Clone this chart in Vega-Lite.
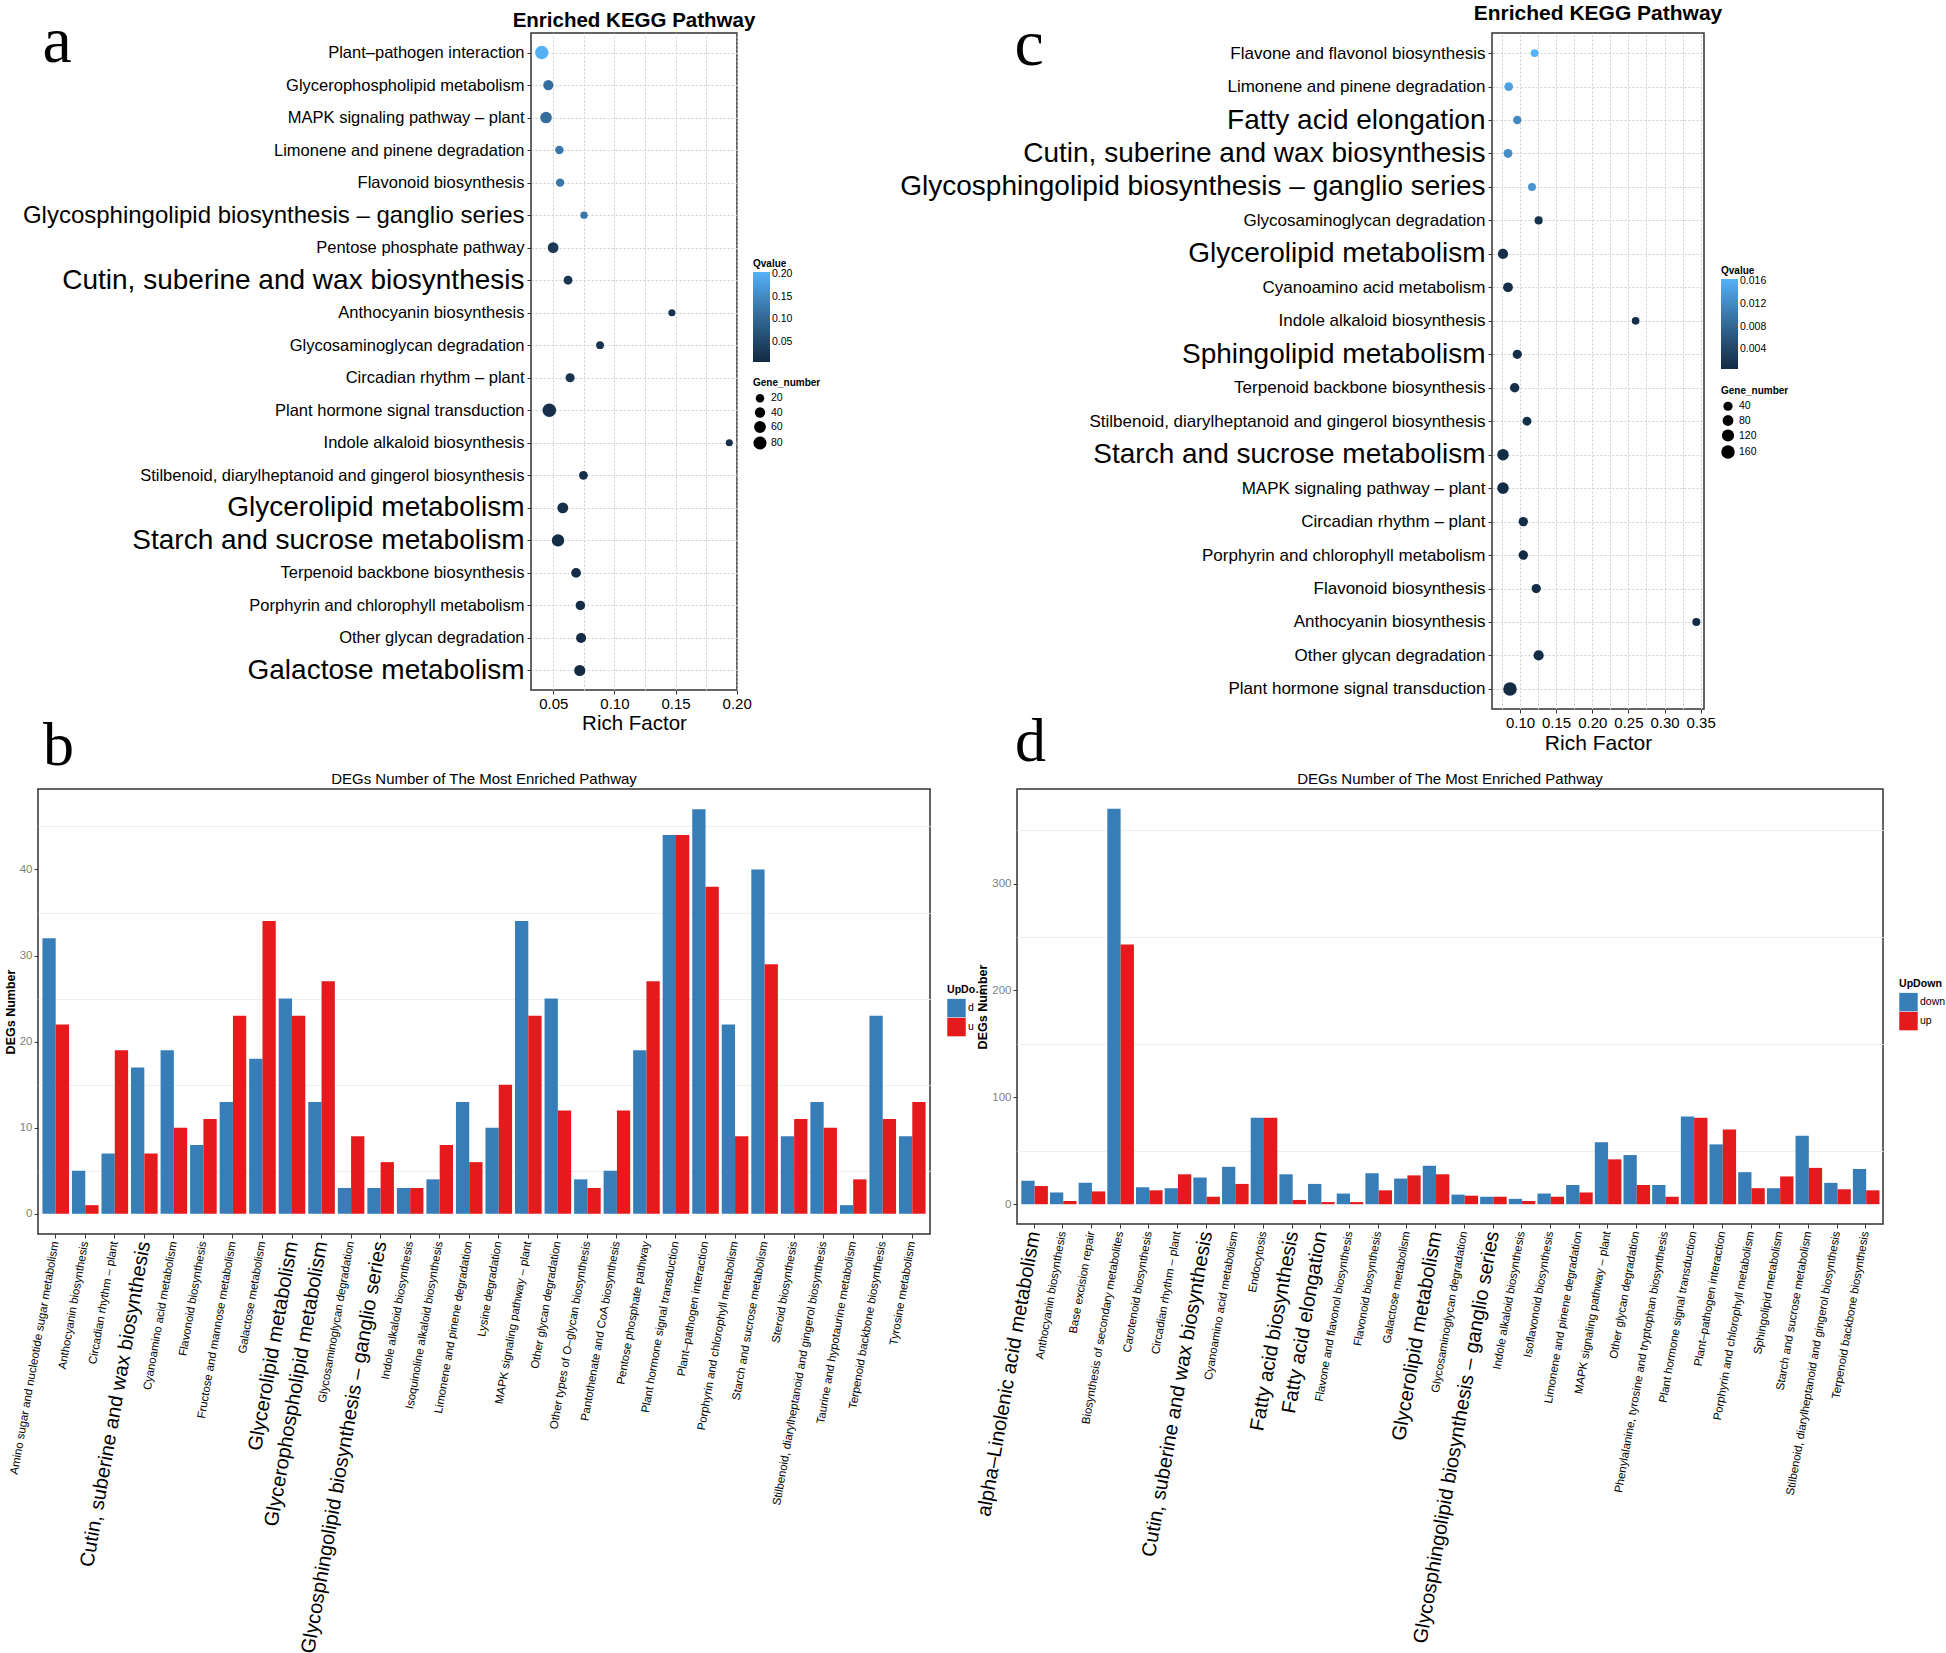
{
"$schema": "https://vega.github.io/schema/vega-lite/v6.json",
"background": "white",
"padding": {"left": 2, "top": 2, "right": 0, "bottom": 0},
"columns": 1,
"align": "none",
"spacing": -43,
"resolve": {"scale": {"color": "independent", "size": "independent"}},
"datasets": {
"a": [
{"pathway": "Plant–pathogen interaction", "rich": 0.0405, "q": 0.203, "genes": 85},
{"pathway": "Glycerophospholipid metabolism", "rich": 0.0459, "q": 0.11, "genes": 40},
{"pathway": "MAPK signaling pathway – plant", "rich": 0.044, "q": 0.11, "genes": 57},
{"pathway": "Limonene and pinene degradation", "rich": 0.0549, "q": 0.125, "genes": 19},
{"pathway": "Flavonoid biosynthesis", "rich": 0.0555, "q": 0.125, "genes": 19},
{"pathway": "Glycosphingolipid biosynthesis – ganglio series", "rich": 0.0751, "q": 0.125, "genes": 9},
{"pathway": "Pentose phosphate pathway", "rich": 0.0498, "q": 0.03, "genes": 46},
{"pathway": "Cutin, suberine and wax biosynthesis", "rich": 0.062, "q": 0.025, "genes": 24},
{"pathway": "Anthocyanin biosynthesis", "rich": 0.147, "q": 0.02, "genes": 6},
{"pathway": "Glycosaminoglycan degradation", "rich": 0.0882, "q": 0.02, "genes": 12},
{"pathway": "Circadian rhythm – plant", "rich": 0.0637, "q": 0.02, "genes": 26},
{"pathway": "Plant hormone signal transduction", "rich": 0.0467, "q": 0.015, "genes": 88},
{"pathway": "Indole alkaloid biosynthesis", "rich": 0.194, "q": 0.015, "genes": 6},
{"pathway": "Stilbenoid, diarylheptanoid and gingerol biosynthesis", "rich": 0.0746, "q": 0.015, "genes": 23},
{"pathway": "Glycerolipid metabolism", "rich": 0.0577, "q": 0.012, "genes": 48},
{"pathway": "Starch and sucrose metabolism", "rich": 0.0538, "q": 0.01, "genes": 69},
{"pathway": "Terpenoid backbone biosynthesis", "rich": 0.0686, "q": 0.01, "genes": 34},
{"pathway": "Porphyrin and chlorophyll metabolism", "rich": 0.0721, "q": 0.01, "genes": 31},
{"pathway": "Other glycan degradation", "rich": 0.0727, "q": 0.008, "genes": 37},
{"pathway": "Galactose metabolism", "rich": 0.0716, "q": 0.007, "genes": 52}
],
"c": [
{"pathway": "Flavone and flavonol biosynthesis", "rich": 0.1203, "q": 0.0164, "genes": 12},
{"pathway": "Limonene and pinene degradation", "rich": 0.0844, "q": 0.0145, "genes": 29},
{"pathway": "Fatty acid elongation", "rich": 0.0963, "q": 0.012, "genes": 21},
{"pathway": "Cutin, suberine and wax biosynthesis", "rich": 0.0834, "q": 0.0125, "genes": 32},
{"pathway": "Glycosphingolipid biosynthesis – ganglio series", "rich": 0.1166, "q": 0.0135, "genes": 14},
{"pathway": "Glycosaminoglycan degradation", "rich": 0.1258, "q": 0.0015, "genes": 17},
{"pathway": "Glycerolipid metabolism", "rich": 0.0765, "q": 0.001, "genes": 64},
{"pathway": "Cyanoamino acid metabolism", "rich": 0.0834, "q": 0.001, "genes": 54},
{"pathway": "Indole alkaloid biosynthesis", "rich": 0.26, "q": 0.001, "genes": 8},
{"pathway": "Sphingolipid metabolism", "rich": 0.0963, "q": 0.001, "genes": 41},
{"pathway": "Terpenoid backbone biosynthesis", "rich": 0.0927, "q": 0.001, "genes": 46},
{"pathway": "Stilbenoid, diarylheptanoid and gingerol biosynthesis", "rich": 0.1097, "q": 0.001, "genes": 34},
{"pathway": "Starch and sucrose metabolism", "rich": 0.0765, "q": 0.0008, "genes": 98},
{"pathway": "MAPK signaling pathway – plant", "rich": 0.0765, "q": 0.0008, "genes": 100},
{"pathway": "Circadian rhythm – plant", "rich": 0.1046, "q": 0.0008, "genes": 43},
{"pathway": "Porphyrin and chlorophyll metabolism", "rich": 0.1046, "q": 0.0008, "genes": 45},
{"pathway": "Flavonoid biosynthesis", "rich": 0.1225, "q": 0.0008, "genes": 42},
{"pathway": "Anthocyanin biosynthesis", "rich": 0.344, "q": 0.0008, "genes": 14},
{"pathway": "Other glycan degradation", "rich": 0.1258, "q": 0.0008, "genes": 64},
{"pathway": "Plant hormone signal transduction", "rich": 0.0862, "q": 0.0006, "genes": 163}
],
"b": [
{"pathway": "Amino sugar and nucleotide sugar metabolism", "UpDown": "down", "n": 32},
{"pathway": "Amino sugar and nucleotide sugar metabolism", "UpDown": "up", "n": 22},
{"pathway": "Anthocyanin biosynthesis", "UpDown": "down", "n": 5},
{"pathway": "Anthocyanin biosynthesis", "UpDown": "up", "n": 1},
{"pathway": "Circadian rhythm – plant", "UpDown": "down", "n": 7},
{"pathway": "Circadian rhythm – plant", "UpDown": "up", "n": 19},
{"pathway": "Cutin, suberine and wax biosynthesis", "UpDown": "down", "n": 17},
{"pathway": "Cutin, suberine and wax biosynthesis", "UpDown": "up", "n": 7},
{"pathway": "Cyanoamino acid metabolism", "UpDown": "down", "n": 19},
{"pathway": "Cyanoamino acid metabolism", "UpDown": "up", "n": 10},
{"pathway": "Flavonoid biosynthesis", "UpDown": "down", "n": 8},
{"pathway": "Flavonoid biosynthesis", "UpDown": "up", "n": 11},
{"pathway": "Fructose and mannose metabolism", "UpDown": "down", "n": 13},
{"pathway": "Fructose and mannose metabolism", "UpDown": "up", "n": 23},
{"pathway": "Galactose metabolism", "UpDown": "down", "n": 18},
{"pathway": "Galactose metabolism", "UpDown": "up", "n": 34},
{"pathway": "Glycerolipid metabolism", "UpDown": "down", "n": 25},
{"pathway": "Glycerolipid metabolism", "UpDown": "up", "n": 23},
{"pathway": "Glycerophospholipid metabolism", "UpDown": "down", "n": 13},
{"pathway": "Glycerophospholipid metabolism", "UpDown": "up", "n": 27},
{"pathway": "Glycosaminoglycan degradation", "UpDown": "down", "n": 3},
{"pathway": "Glycosaminoglycan degradation", "UpDown": "up", "n": 9},
{"pathway": "Glycosphingolipid biosynthesis – ganglio series", "UpDown": "down", "n": 3},
{"pathway": "Glycosphingolipid biosynthesis – ganglio series", "UpDown": "up", "n": 6},
{"pathway": "Indole alkaloid biosynthesis", "UpDown": "down", "n": 3},
{"pathway": "Indole alkaloid biosynthesis", "UpDown": "up", "n": 3},
{"pathway": "Isoquinoline alkaloid biosynthesis", "UpDown": "down", "n": 4},
{"pathway": "Isoquinoline alkaloid biosynthesis", "UpDown": "up", "n": 8},
{"pathway": "Limonene and pinene degradation", "UpDown": "down", "n": 13},
{"pathway": "Limonene and pinene degradation", "UpDown": "up", "n": 6},
{"pathway": "Lysine degradation", "UpDown": "down", "n": 10},
{"pathway": "Lysine degradation", "UpDown": "up", "n": 15},
{"pathway": "MAPK signaling pathway – plant", "UpDown": "down", "n": 34},
{"pathway": "MAPK signaling pathway – plant", "UpDown": "up", "n": 23},
{"pathway": "Other glycan degradation", "UpDown": "down", "n": 25},
{"pathway": "Other glycan degradation", "UpDown": "up", "n": 12},
{"pathway": "Other types of O–glycan biosynthesis", "UpDown": "down", "n": 4},
{"pathway": "Other types of O–glycan biosynthesis", "UpDown": "up", "n": 3},
{"pathway": "Pantothenate and CoA biosynthesis", "UpDown": "down", "n": 5},
{"pathway": "Pantothenate and CoA biosynthesis", "UpDown": "up", "n": 12},
{"pathway": "Pentose phosphate pathway", "UpDown": "down", "n": 19},
{"pathway": "Pentose phosphate pathway", "UpDown": "up", "n": 27},
{"pathway": "Plant hormone signal transduction", "UpDown": "down", "n": 44},
{"pathway": "Plant hormone signal transduction", "UpDown": "up", "n": 44},
{"pathway": "Plant–pathogen interaction", "UpDown": "down", "n": 47},
{"pathway": "Plant–pathogen interaction", "UpDown": "up", "n": 38},
{"pathway": "Porphyrin and chlorophyll metabolism", "UpDown": "down", "n": 22},
{"pathway": "Porphyrin and chlorophyll metabolism", "UpDown": "up", "n": 9},
{"pathway": "Starch and sucrose metabolism", "UpDown": "down", "n": 40},
{"pathway": "Starch and sucrose metabolism", "UpDown": "up", "n": 29},
{"pathway": "Steroid biosynthesis", "UpDown": "down", "n": 9},
{"pathway": "Steroid biosynthesis", "UpDown": "up", "n": 11},
{"pathway": "Stilbenoid, diarylheptanoid and gingerol biosynthesis", "UpDown": "down", "n": 13},
{"pathway": "Stilbenoid, diarylheptanoid and gingerol biosynthesis", "UpDown": "up", "n": 10},
{"pathway": "Taurine and hypotaurine metabolism", "UpDown": "down", "n": 1},
{"pathway": "Taurine and hypotaurine metabolism", "UpDown": "up", "n": 4},
{"pathway": "Terpenoid backbone biosynthesis", "UpDown": "down", "n": 23},
{"pathway": "Terpenoid backbone biosynthesis", "UpDown": "up", "n": 11},
{"pathway": "Tyrosine metabolism", "UpDown": "down", "n": 9},
{"pathway": "Tyrosine metabolism", "UpDown": "up", "n": 13}
],
"d": [
{"pathway": "alpha–Linolenic acid metabolism", "UpDown": "down", "n": 22},
{"pathway": "alpha–Linolenic acid metabolism", "UpDown": "up", "n": 17},
{"pathway": "Anthocyanin biosynthesis", "UpDown": "down", "n": 11},
{"pathway": "Anthocyanin biosynthesis", "UpDown": "up", "n": 3},
{"pathway": "Base excision repair", "UpDown": "down", "n": 20},
{"pathway": "Base excision repair", "UpDown": "up", "n": 12},
{"pathway": "Biosynthesis of secondary metabolites", "UpDown": "down", "n": 370},
{"pathway": "Biosynthesis of secondary metabolites", "UpDown": "up", "n": 243},
{"pathway": "Carotenoid biosynthesis", "UpDown": "down", "n": 16},
{"pathway": "Carotenoid biosynthesis", "UpDown": "up", "n": 13},
{"pathway": "Circadian rhythm – plant", "UpDown": "down", "n": 15},
{"pathway": "Circadian rhythm – plant", "UpDown": "up", "n": 28},
{"pathway": "Cutin, suberine and wax biosynthesis", "UpDown": "down", "n": 25},
{"pathway": "Cutin, suberine and wax biosynthesis", "UpDown": "up", "n": 7},
{"pathway": "Cyanoamino acid metabolism", "UpDown": "down", "n": 35},
{"pathway": "Cyanoamino acid metabolism", "UpDown": "up", "n": 19},
{"pathway": "Endocytosis", "UpDown": "down", "n": 81},
{"pathway": "Endocytosis", "UpDown": "up", "n": 81},
{"pathway": "Fatty acid biosynthesis", "UpDown": "down", "n": 28},
{"pathway": "Fatty acid biosynthesis", "UpDown": "up", "n": 4},
{"pathway": "Fatty acid elongation", "UpDown": "down", "n": 19},
{"pathway": "Fatty acid elongation", "UpDown": "up", "n": 2},
{"pathway": "Flavone and flavonol biosynthesis", "UpDown": "down", "n": 10},
{"pathway": "Flavone and flavonol biosynthesis", "UpDown": "up", "n": 2},
{"pathway": "Flavonoid biosynthesis", "UpDown": "down", "n": 29},
{"pathway": "Flavonoid biosynthesis", "UpDown": "up", "n": 13},
{"pathway": "Galactose metabolism", "UpDown": "down", "n": 24},
{"pathway": "Galactose metabolism", "UpDown": "up", "n": 27},
{"pathway": "Glycerolipid metabolism", "UpDown": "down", "n": 36},
{"pathway": "Glycerolipid metabolism", "UpDown": "up", "n": 28},
{"pathway": "Glycosaminoglycan degradation", "UpDown": "down", "n": 9},
{"pathway": "Glycosaminoglycan degradation", "UpDown": "up", "n": 8},
{"pathway": "Glycosphingolipid biosynthesis – ganglio series", "UpDown": "down", "n": 7},
{"pathway": "Glycosphingolipid biosynthesis – ganglio series", "UpDown": "up", "n": 7},
{"pathway": "Indole alkaloid biosynthesis", "UpDown": "down", "n": 5},
{"pathway": "Indole alkaloid biosynthesis", "UpDown": "up", "n": 3},
{"pathway": "Isoflavonoid biosynthesis", "UpDown": "down", "n": 10},
{"pathway": "Isoflavonoid biosynthesis", "UpDown": "up", "n": 7},
{"pathway": "Limonene and pinene degradation", "UpDown": "down", "n": 18},
{"pathway": "Limonene and pinene degradation", "UpDown": "up", "n": 11},
{"pathway": "MAPK signaling pathway – plant", "UpDown": "down", "n": 58},
{"pathway": "MAPK signaling pathway – plant", "UpDown": "up", "n": 42},
{"pathway": "Other glycan degradation", "UpDown": "down", "n": 46},
{"pathway": "Other glycan degradation", "UpDown": "up", "n": 18},
{"pathway": "Phenylalanine, tyrosine and tryptophan biosynthesis", "UpDown": "down", "n": 18},
{"pathway": "Phenylalanine, tyrosine and tryptophan biosynthesis", "UpDown": "up", "n": 7},
{"pathway": "Plant hormone signal transduction", "UpDown": "down", "n": 82},
{"pathway": "Plant hormone signal transduction", "UpDown": "up", "n": 81},
{"pathway": "Plant–pathogen interaction", "UpDown": "down", "n": 56},
{"pathway": "Plant–pathogen interaction", "UpDown": "up", "n": 70},
{"pathway": "Porphyrin and chlorophyll metabolism", "UpDown": "down", "n": 30},
{"pathway": "Porphyrin and chlorophyll metabolism", "UpDown": "up", "n": 15},
{"pathway": "Sphingolipid metabolism", "UpDown": "down", "n": 15},
{"pathway": "Sphingolipid metabolism", "UpDown": "up", "n": 26},
{"pathway": "Starch and sucrose metabolism", "UpDown": "down", "n": 64},
{"pathway": "Starch and sucrose metabolism", "UpDown": "up", "n": 34},
{"pathway": "Stilbenoid, diarylheptanoid and gingerol biosynthesis", "UpDown": "down", "n": 20},
{"pathway": "Stilbenoid, diarylheptanoid and gingerol biosynthesis", "UpDown": "up", "n": 14},
{"pathway": "Terpenoid backbone biosynthesis", "UpDown": "down", "n": 33},
{"pathway": "Terpenoid backbone biosynthesis", "UpDown": "up", "n": 13}
]
},
"concat": [
{"columns": 4, "align": "none", "spacing": 18,
"resolve": {"scale": {"color": "independent", "size": "independent"}},
"concat": [
{"width": 1, "height": 1, "data": {"values": []}, "mark": {"type": "point"}, "encoding": {}, "view": {"stroke": null}},
{
"data": {"name": "a"},
"width": 206, "height": 657,
"title": {"text": "Enriched KEGG Pathway", "fontSize": 20.5, "fontWeight": "bold", "offset": -23},
"mark": {"type": "point", "filled": true, "opacity": 1, "strokeWidth": 0},
"encoding": {
"y": {"field": "pathway", "type": "nominal", "sort": null, "title": "a",
"scale": {"type": "point", "padding": 0.6},
"axis": {"labelFontSize": {"condition": [{"test": "datum.value === 'Glycosphingolipid biosynthesis – ganglio series'", "value": 24}, {"test": "indexof(['Cutin, suberine and wax biosynthesis','Glycerolipid metabolism','Starch and sucrose metabolism','Galactose metabolism'], datum.value) >= 0", "value": 28}], "value": 16.5},
"labelLimit": 1000, "labelPadding": 3, "tickSize": 4, "grid": true, "gridColor": "#cfcfcf", "gridDash": [2, 2],
"titleFont": "Liberation Serif", "titleFontSize": 66, "titleFontWeight": "normal", "titleAngle": 0, "titleAlign": "left", "titleBaseline": "alphabetic", "titleX": -489, "titleY": 28}},
"x": {"field": "rich", "type": "quantitative", "title": "Rich Factor",
"scale": {"domain": [0.0317, 0.2003], "nice": false, "zero": false},
"axis": {"values": [0.05, 0.075, 0.1, 0.125, 0.15, 0.175, 0.2], "labelExpr": "indexof([0.05,0.1,0.15,0.2], datum.value) >= 0 ? format(datum.value, '.2f') : ''",
"tickOpacity": {"condition": {"test": "indexof([0.05,0.1,0.15,0.2], datum.value) >= 0", "value": 1}, "value": 0},
"labelFontSize": 15, "tickSize": 4, "labelPadding": 2, "titleFontSize": 20.5, "titleFontWeight": "normal", "titlePadding": 2,
"grid": true, "gridColor": "#cfcfcf", "gridDash": [2, 2], "labelOverlap": false, "labelFlush": false}},
"color": {"field": "q", "type": "quantitative", "title": "Qvalue",
"scale": {"domain": [0.006, 0.205], "range": ["#132B43", "#56B1F7"], "interpolate": "lab"},
"legend": {"orient": "none", "legendX": 222, "legendY": 226, "titleFontSize": 10, "titleFontWeight": "bold", "titlePadding": 3,
"gradientLength": 90, "gradientThickness": 17, "values": [0.05, 0.1, 0.15, 0.2], "format": ".2f", "labelFontSize": 10.5, "gradientStrokeWidth": 0, "direction": "vertical"}},
"size": {"field": "genes", "type": "quantitative", "title": "Gene_number",
"scale": {"domain": [6, 88], "range": [50, 184], "zero": false},
"legend": {"orient": "none", "legendX": 222, "legendY": 345, "titleFontSize": 10, "titleFontWeight": "bold", "values": [20, 40, 60, 80],
"symbolFillColor": "#000000", "symbolStrokeWidth": 0, "symbolOpacity": 1, "labelFontSize": 10.5, "rowPadding": 3}}
}
},
{"width": 41, "height": 1, "data": {"values": []}, "mark": {"type": "point"}, "encoding": {}, "view": {"stroke": null}},
{
"data": {"name": "c"},
"width": 212, "height": 676,
"title": {"text": "Enriched KEGG Pathway", "fontSize": 21, "fontWeight": "bold", "offset": -13},
"mark": {"type": "point", "filled": true, "opacity": 1, "strokeWidth": 0},
"encoding": {
"y": {"field": "pathway", "type": "nominal", "sort": null, "title": "c",
"scale": {"type": "point", "padding": 0.6},
"axis": {"labelFontSize": {"condition": {"test": "indexof(['Fatty acid elongation','Cutin, suberine and wax biosynthesis','Glycosphingolipid biosynthesis – ganglio series','Glycerolipid metabolism','Sphingolipid metabolism','Starch and sucrose metabolism'], datum.value) >= 0", "value": 28}, "value": 17},
"labelLimit": 1000, "labelPadding": 3, "tickSize": 4, "grid": true, "gridColor": "#cfcfcf", "gridDash": [2, 2],
"titleFont": "Liberation Serif", "titleFontSize": 66, "titleFontWeight": "normal", "titleAngle": 0, "titleAlign": "left", "titleBaseline": "alphabetic", "titleX": -478, "titleY": 31}},
"x": {"field": "rich", "type": "quantitative", "title": "Rich Factor",
"scale": {"domain": [0.0613, 0.3546], "nice": false, "zero": false},
"axis": {"values": [0.075, 0.1, 0.125, 0.15, 0.175, 0.2, 0.225, 0.25, 0.275, 0.3, 0.325, 0.35], "labelExpr": "indexof([0.1,0.15,0.2,0.25,0.3,0.35], datum.value) >= 0 ? format(datum.value, '.2f') : ''",
"tickOpacity": {"condition": {"test": "indexof([0.1,0.15,0.2,0.25,0.3,0.35], datum.value) >= 0", "value": 1}, "value": 0},
"labelFontSize": 15, "tickSize": 4, "labelPadding": 2, "titleFontSize": 21, "titleFontWeight": "normal", "titlePadding": 2,
"grid": true, "gridColor": "#cfcfcf", "gridDash": [2, 2], "labelOverlap": false, "labelFlush": false}},
"color": {"field": "q", "type": "quantitative", "title": "Qvalue",
"scale": {"domain": [0.0005, 0.0164], "range": ["#132B43", "#56B1F7"], "interpolate": "lab"},
"legend": {"orient": "none", "legendX": 229, "legendY": 233, "titleFontSize": 10, "titleFontWeight": "bold", "titlePadding": 3,
"gradientLength": 90, "gradientThickness": 17, "values": [0.004, 0.008, 0.012, 0.016], "format": ".3f", "labelFontSize": 10.5, "gradientStrokeWidth": 0, "direction": "vertical"}},
"size": {"field": "genes", "type": "quantitative", "title": "Gene_number",
"scale": {"domain": [8, 163], "range": [59, 184], "zero": false},
"legend": {"orient": "none", "legendX": 229, "legendY": 353, "titleFontSize": 10, "titleFontWeight": "bold", "values": [40, 80, 120, 160],
"symbolFillColor": "#000000", "symbolStrokeWidth": 0, "symbolOpacity": 1, "labelFontSize": 10.5, "rowPadding": 3}}
}
}
]},
{"columns": 3, "align": "none", "spacing": -14,
"resolve": {"scale": {"color": "independent"}},
"concat": [
{"width": 15, "height": 1, "data": {"values": []}, "mark": {"type": "point"}, "encoding": {}, "view": {"stroke": null}},
{
"title": {"text": "b", "anchor": "start", "frame": "group", "font": "Liberation Serif", "fontSize": 62, "fontWeight": "normal", "dx": 5, "offset": -7, "color": "#000000"},
"vconcat": [{
"data": {"name": "b"},
"width": 892, "height": 445,
"title": {"text": "DEGs Number of The Most Enriched Pathway", "fontSize": 15, "fontWeight": "normal", "offset": 2},
"mark": {"type": "bar"},
"encoding": {
"x": {"field": "pathway", "type": "nominal", "sort": null, "title": null,
"scale": {"paddingInner": 0.1, "paddingOuter": 0.15},
"axis": {"labelAngle": -80, "labelAlign": "right", "labelBaseline": "middle",
"labelFontSize": {"condition": {"test": "indexof(['Cutin, suberine and wax biosynthesis','Glycerolipid metabolism','Glycerophospholipid metabolism','Glycosphingolipid biosynthesis – ganglio series'], datum.value) >= 0", "value": 20}, "value": 11.5},
"labelLimit": 1000, "labelPadding": 3, "tickSize": 4, "labelOverlap": false, "grid": false}},
"xOffset": {"field": "UpDown", "type": "nominal", "sort": ["down", "up"]},
"y": {"field": "n", "type": "quantitative", "title": "DEGs Number",
"scale": {"domain": [-2.35, 49.35], "nice": false},
"axis": {"values": [0, 5, 10, 15, 20, 25, 30, 35, 40, 45], "labelExpr": "datum.value % 10 === 0 ? datum.label : ''",
"labelColor": "#7f7f7f", "labelFontSize": 11.5, "tickSize": 4, "labelPadding": 2,
"tickOpacity": {"condition": {"test": "datum.value % 10 === 0", "value": 1}, "value": 0},
"grid": true, "gridColor": "#efefef", "gridOpacity": {"condition": {"test": "datum.value % 10 === 0", "value": 0}, "value": 1},
"titleFontSize": 12.5, "titleFontWeight": "bold", "titlePadding": 2}},
"color": {"field": "UpDown", "type": "nominal", "title": "UpDown",
"scale": {"domain": ["down", "up"], "range": ["#377EB8", "#E41A1C"]},
"legend": {"orient": "none", "legendX": 909, "legendY": 196, "titleFontSize": 10.6, "titleFontWeight": "bold", "titleLimit": 40,
"labelExpr": "substring(datum.label, 0, 1)", "symbolType": "square", "symbolSize": 340, "symbolStrokeWidth": 0, "labelFontSize": 10.5, "rowPadding": 0, "titlePadding": 3, "labelOffset": 2}}
}
}]
},
{
"title": {"text": "d", "anchor": "start", "frame": "group", "font": "Liberation Serif", "fontSize": 62, "fontWeight": "normal", "dx": -2, "offset": -3, "color": "#000000"},
"vconcat": [{
"data": {"name": "d"},
"width": 866, "height": 435,
"title": {"text": "DEGs Number of The Most Enriched Pathway", "fontSize": 15, "fontWeight": "normal", "offset": 2},
"mark": {"type": "bar"},
"encoding": {
"x": {"field": "pathway", "type": "nominal", "sort": null, "title": null,
"scale": {"paddingInner": 0.1, "paddingOuter": 0.15},
"axis": {"labelAngle": -80, "labelAlign": "right", "labelBaseline": "middle",
"labelFontSize": {"condition": {"test": "indexof(['alpha–Linolenic acid metabolism','Cutin, suberine and wax biosynthesis','Fatty acid biosynthesis','Fatty acid elongation','Glycerolipid metabolism','Glycosphingolipid biosynthesis – ganglio series'], datum.value) >= 0", "value": 20}, "value": 11.5},
"labelLimit": 1000, "labelPadding": 3, "tickSize": 4, "labelOverlap": false, "grid": false}},
"xOffset": {"field": "UpDown", "type": "nominal", "sort": ["down", "up"]},
"y": {"field": "n", "type": "quantitative", "title": "DEGs Number",
"scale": {"domain": [-18.5, 388.5], "nice": false},
"axis": {"values": [0, 50, 100, 150, 200, 250, 300, 350], "labelExpr": "datum.value % 100 === 0 ? datum.label : ''",
"labelColor": "#7f7f7f", "labelFontSize": 11.5, "tickSize": 4, "labelPadding": 2,
"tickOpacity": {"condition": {"test": "datum.value % 100 === 0", "value": 1}, "value": 0},
"grid": true, "gridColor": "#efefef", "gridOpacity": {"condition": {"test": "datum.value % 100 === 0", "value": 0}, "value": 1},
"titleFontSize": 12.5, "titleFontWeight": "bold", "titlePadding": 2}},
"color": {"field": "UpDown", "type": "nominal", "title": "UpDown",
"scale": {"domain": ["down", "up"], "range": ["#377EB8", "#E41A1C"]},
"legend": {"orient": "none", "legendX": 882, "legendY": 190, "titleFontSize": 10.6, "titleFontWeight": "bold",
"symbolType": "square", "symbolSize": 340, "symbolStrokeWidth": 0, "labelFontSize": 10.5, "rowPadding": 0, "titlePadding": 3, "labelOffset": 2}}
}
}]
}
]}
],
"config": {
"font": "Liberation Sans",
"view": {"stroke": "#333333", "strokeWidth": 1.5},
"axis": {"domain": false, "tickColor": "#333333", "labelColor": "#000000", "titleColor": "#000000", "labelFont": "Liberation Sans", "titleFont": "Liberation Sans"},
"legend": {"titleFont": "Liberation Sans", "labelFont": "Liberation Sans", "titleColor": "#000000", "labelColor": "#000000"},
"title": {"font": "Liberation Sans", "color": "#000000"}
}
}
